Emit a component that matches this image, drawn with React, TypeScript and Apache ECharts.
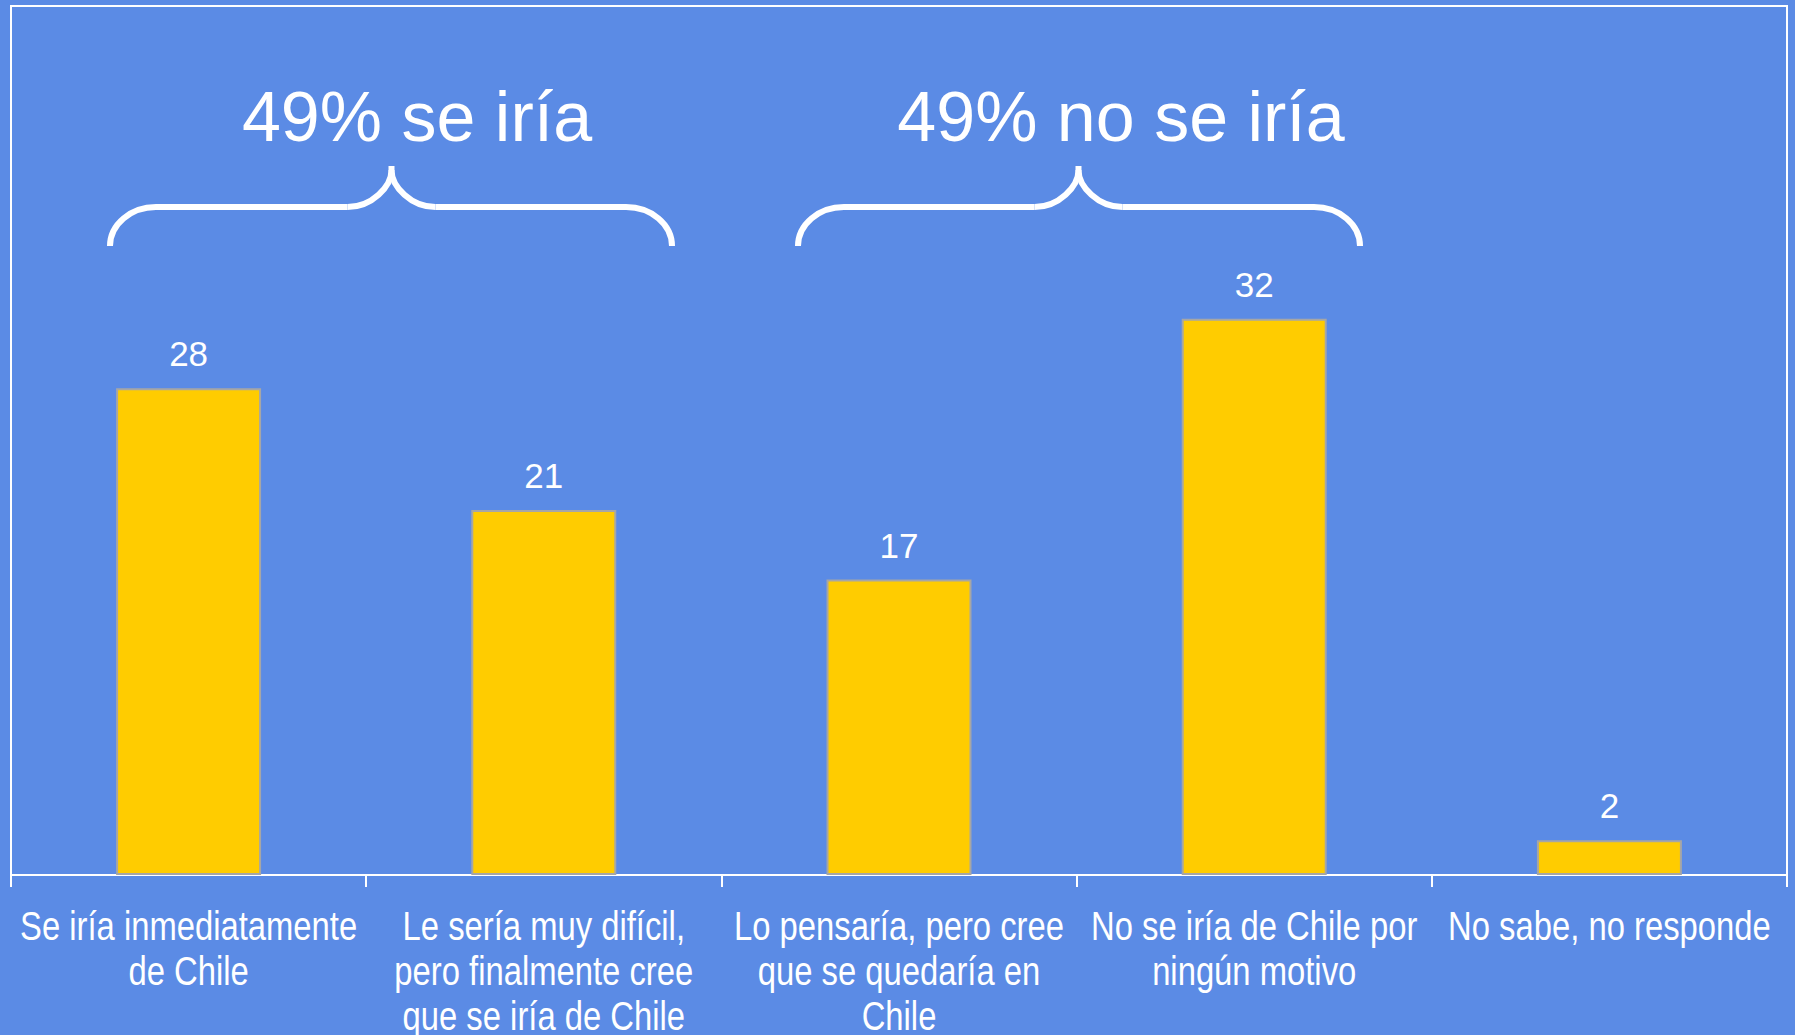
import React, { useEffect, useRef } from "react";
import * as echarts from "echarts";

const categories = [
  "Se iría inmediatamente\nde Chile",
  "Le sería muy difícil,\npero finalmente cree\nque se iría de Chile",
  "Lo pensaría, pero cree\nque se quedaría en\nChile",
  "No se iría de Chile por\nningún motivo",
  "No sabe, no responde",
];
const values = [28, 21, 17, 32, 2];
const groupTitles = ["49% se iría", "49% no se iría"];

const BG = "#5B8BE5";
const FONT = "'Liberation Sans', Arial, sans-serif";
const K = 0.552;

function brace(cx: number, left: number, right: number, yTip: number, yMid: number, yEnd: number) {
  const r1 = 46;
  const r2 = 44;
  const h1 = yEnd - yMid;
  const h2 = yMid - yTip - 4;
  const style = { stroke: "#ffffff", lineWidth: 6, fill: null as any };
  return {
    type: "group",
    children: [
      { type: "bezierCurve", shape: { x1: left, y1: yEnd, cpx1: left, cpy1: yEnd - K * h1, cpx2: left + r1 - K * r1, cpy2: yMid, x2: left + r1, y2: yMid }, style },
      { type: "line", shape: { x1: left + r1, y1: yMid, x2: cx - r2, y2: yMid }, style },
      { type: "bezierCurve", shape: { x1: cx - r2, y1: yMid, cpx1: cx - r2 + K * r2, cpy1: yMid, cpx2: cx, cpy2: yMid - K * h2, x2: cx, y2: yMid - h2 }, style },
      { type: "line", shape: { x1: cx, y1: yMid - h2, x2: cx, y2: yTip }, style },
      { type: "bezierCurve", shape: { x1: cx, y1: yMid - h2, cpx1: cx, cpy1: yMid - K * h2, cpx2: cx + r2 - K * r2, cpy2: yMid, x2: cx + r2, y2: yMid }, style },
      { type: "line", shape: { x1: cx + r2, y1: yMid, x2: right - r1, y2: yMid }, style },
      { type: "bezierCurve", shape: { x1: right - r1, y1: yMid, cpx1: right - r1 + K * r1, cpy1: yMid, cpx2: right, cpy2: yEnd - K * h1, x2: right, y2: yEnd }, style },
    ],
  };
}

export default function App() {
  const ref = useRef<HTMLDivElement>(null);
  useEffect(() => {
    if (!ref.current) return;
    const chart = echarts.init(ref.current, null, { renderer: "svg" });
    chart.setOption({
      animation: false,
      backgroundColor: BG,
      grid: {
        left: 11,
        right: 8,
        top: 6,
        bottom: 160,
        show: true,
        borderColor: "#ffffff",
        borderWidth: 2,
        containLabel: false,
        outerBoundsMode: "none",
      },
      xAxis: {
        type: "category",
        data: categories,
        axisLine: { lineStyle: { color: "#ffffff", width: 2 } },
        axisTick: { show: true, length: 12, lineStyle: { color: "#ffffff", width: 2 } },
        axisLabel: { show: false },
      },
      yAxis: {
        type: "value",
        min: 0,
        max: 50,
        show: false,
        splitLine: { show: false },
      },
      series: [
        {
          type: "bar",
          data: values,
          barWidth: 145,
          itemStyle: { color: "#FFCC00", borderColor: "#A6A6A6", borderWidth: 2 },
          label: {
            show: true,
            position: "top",
            distance: 17,
            color: "#ffffff",
            fontFamily: FONT,
            fontSize: 35,
          },
        },
      ],
    });

    const axisY = chart.convertToPixel({ yAxisIndex: 0 }, 0) as number;
    const labelTexts = categories.map((c) => {
      const x = chart.convertToPixel({ xAxisIndex: 0 }, c) as number;
      return {
        type: "text",
        x,
        y: axisY + 29,
        scaleX: 0.82,
        silent: true,
        style: {
          text: c,
          x: 0,
          y: 0,
          fill: "#ffffff",
          font: "40px " + FONT,
          lineHeight: 45,
          textAlign: "center",
          textVerticalAlign: "top",
        },
      };
    });

    chart.setOption({
      graphic: [
        {
          type: "text",
          x: 417,
          y: 117,
          style: {
            text: groupTitles[0],
            fill: "#ffffff",
            font: "70px " + FONT,
            textAlign: "center",
            textVerticalAlign: "middle",
          },
        },
        {
          type: "text",
          x: 1121,
          y: 117,
          style: {
            text: groupTitles[1],
            fill: "#ffffff",
            font: "70px " + FONT,
            textAlign: "center",
            textVerticalAlign: "middle",
          },
        },
        brace(391.5, 110, 672, 166, 207, 246),
        brace(1078.5, 798, 1360, 166, 207, 246),
        ...labelTexts,
      ],
    });
    return () => chart.dispose();
  }, []);
  return (
    <div
      ref={ref}
      style={{ position: "absolute", left: 0, top: 0, width: 1795, height: 1035 }}
    />
  );
}
